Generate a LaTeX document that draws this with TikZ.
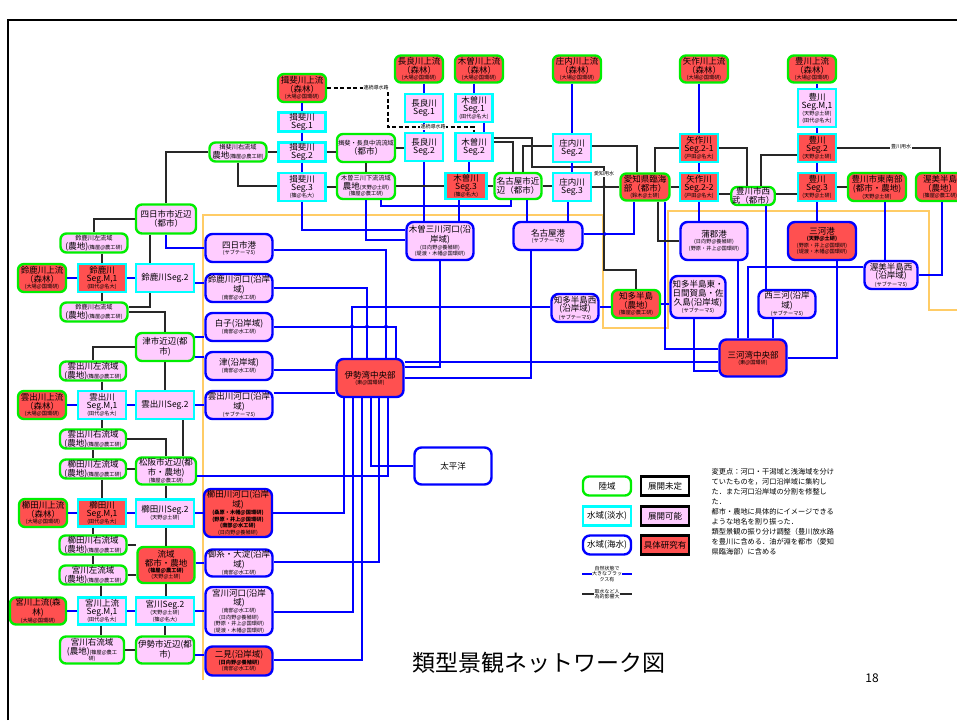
\documentclass[tikz,border=0pt]{standalone}
\usepackage{fontspec}
\setmainfont{Noto Sans CJK JP}
\definecolor{lgreen}{RGB}{0,238,0}
\definecolor{lcyan}{RGB}{0,255,255}
\definecolor{lblue}{RGB}{0,0,255}
\definecolor{pinkf}{RGB}{255,204,255}
\definecolor{redf}{RGB}{255,80,80}
\definecolor{orng}{RGB}{255,204,102}
\definecolor{lineg}{RGB}{40,40,40}
\newcommand{\sm}[1]{{\fontsize{5.2}{3}\selectfont #1}}
\newcommand{\xs}[1]{{\fontsize{6.2}{3}\selectfont #1}}
\begin{document}
\begin{tikzpicture}[x=1pt,y=-1pt,
 every node/.style={font=\fontsize{8.5}{4}\selectfont, inner sep=0.5pt, align=center},
 land/.style={draw=lgreen,line width=2.4pt,rounded corners=6pt},
 fresh/.style={draw=lcyan,line width=2.4pt},
 sea/.style={draw=lblue,line width=2.4pt,rounded corners=7pt},
 pk/.style={fill=pinkf}, rd/.style={fill=redf},
 sz/.style 2 args={minimum width=#1,minimum height=#2},
 bl/.style={draw=lblue,line width=2.7pt},
 tb/.style={draw=lblue,line width=1.2pt},
 bk/.style={draw=lineg,line width=1.1pt},
 dsh/.style={draw=black,line width=1.3pt,dash pattern=on 4pt off 2.5pt},
 lbl/.style={fill=white,inner sep=0.6pt,font=\fontsize{5}{3}\selectfont},
 org/.style={draw=orng,line width=2pt}]
\useasboundingbox (0,0) rectangle (957,720);
% frame
\draw[line width=2.5pt] (8,720) -- (8,20) -- (957,20);
% orange bracket
\draw[org] (203,680) -- (203,215) -- (603,215) -- (603,328) -- (668,328) -- (668,211) -- (929,211) -- (929,310) -- (960,310);

% ---------- left column ----------
\node[land,rd,sz={48}{28}] (iu) at (302,88) {揖斐川上流\\（森林）\\\sm{(大場@国環研)}};
\node[fresh,pk,sz={47}{19}] (i1) at (302,122) {揖斐川\\Seg.1};
\node[fresh,pk,sz={47}{19}] (i2) at (302,152) {揖斐川\\Seg.2};
\node[fresh,pk,sz={47}{28}] (i3) at (302,187) {揖斐川\\Seg.3\\\sm{(篠@名大)}};
\node[land,pk,sz={57}{19}] (ir) at (238,152) {\xs{揖斐川右流域}\\農地\sm{(篠屋@農工研)}};
\node[land,pk,sz={60}{29}] (yc) at (166,219) {四日市市近辺\\（都市）};
\node[sea,pk,sz={67}{28}] (yp) at (239,248) {四日市港\\\sm{(サブテーマ5)}};
\node[land,pk,sz={67}{19}] (sl) at (94,243) {\xs{鈴鹿川左流域}\\(農地)\sm{(篠屋@農工研)}};
\node[land,rd,sz={48}{28}] (su) at (42,278) {鈴鹿川上流\\（森林）\\\sm{(大場@国環研)}};
\node[fresh,rd,sz={48}{28}] (sm) at (102,278) {鈴鹿川\\Seg.M,1\\\sm{(田代@名大)}};
\node[fresh,pk,sz={58}{28}] (s2) at (165,278) {鈴鹿川Seg.2};
\node[sea,pk,sz={67}{28}] (sk) at (239,288) {鈴鹿川河口(沿岸\\域)\\\sm{(南部@水工研)}};
\node[land,pk,sz={67}{19}] (sr) at (94,312) {\xs{鈴鹿川右流域}\\(農地)\sm{(篠屋@農工研)}};
\node[sea,pk,sz={67}{28}] (sh) at (239,327) {白子(沿岸域)\\\sm{(南部@水工研)}};
\node[land,pk,sz={58}{28}] (tc) at (165,347) {津市近辺(都\\市)};
\node[sea,pk,sz={67}{28}] (ts) at (239,366) {津(沿岸域)\\\sm{(南部@水工研)}};
\node[land,pk,sz={66}{19}] (kl) at (93,371) {雲出川左流域\\(農地)\sm{(篠屋@農工研)}};
\node[land,rd,sz={48}{28}] (ku) at (42,405) {雲出川上流\\（森林）\\\sm{(大場@国環研)}};
\node[fresh,pk,sz={48}{28}] (km) at (102,405) {雲出川\\Seg.M,1\\\sm{(田代@名大)}};
\node[fresh,pk,sz={58}{28}] (k2) at (165,405) {雲出川Seg.2};
\node[sea,pk,sz={67}{28}] (kk) at (239,405) {雲出川河口(沿岸\\域)\\\sm{(サブテーマ5)}};
\node[land,pk,sz={66}{19}] (kr) at (93,439) {雲出川右流域\\(農地)\sm{(篠屋@農工研)}};
\node[land,pk,sz={66}{19}] (cl) at (93,469) {櫛田川左流域\\(農地)\sm{(篠屋@農工研)}};
\node[land,pk,sz={60}{27}] (mc) at (166,471) {松阪市近辺(都\\市・農地)\\\sm{(篠屋@農工研)}};
\node[land,rd,sz={48}{28}] (cu) at (43,513) {櫛田川上流\\（森林）\\\sm{(大場@国環研)}};
\node[fresh,rd,sz={48}{27}] (cm) at (102,513) {櫛田川\\Seg.M,1\\\sm{(田代@名大)}};
\node[fresh,pk,sz={58}{27}] (c2) at (165,513) {櫛田川Seg.2\\\sm{(天野@土研)}};
\node[sea,rd,sz={68}{48}] (ck) at (238,513) {櫛田川河口(沿岸\\域)\\\sm{\bfseries(桑原・木幡@国環研)}\\\sm{\bfseries(野原・井上@国環研)}\\\sm{\bfseries(南部@水工研)}\\\sm{(日向野@養殖研)}};
\node[land,pk,sz={67}{19}] (cr) at (93,545) {櫛田川右流域\\(農地)\sm{(篠屋@農工研)}};
\node[land,rd,sz={57}{36}] (ry) at (166,565) {流域\\都市・農地\\\sm{\bfseries(篠屋@農工研)}\\\sm{(天野@土研)}};
\node[sea,pk,sz={67}{27}] (go) at (239,563) {御糸・大淀(沿岸\\域)\\\sm{(南部@水工研)}};
\node[land,pk,sz={67}{19}] (wl) at (93,575) {宮川左流域\\(農地)\sm{(篠屋@農工研)}};
\node[land,rd,sz={56}{27}] (wu) at (38,611) {宮川上流(森\\林)\\\sm{(大場@国環研)}};
\node[fresh,pk,sz={48}{27}] (wm) at (102,611) {宮川上流\\Seg.M,1\\\sm{(田代@名大)}};
\node[fresh,pk,sz={58}{27}] (w2) at (165,611) {宮川Seg.2\\\sm{(天野@土研)}\\\sm{(篠@名大)}};
\node[sea,pk,sz={67}{48}] (wk) at (239,611) {宮川河口(沿岸\\域)\\\sm{(南部@水工研)}\\\sm{(日向野@養殖研)}\\\sm{(野原・井上@国環研)}\\\sm{(堤渡・木幡@国環研)}};
\node[land,pk,sz={64}{27}] (wr) at (92,650) {宮川右流域\\(農地)\sm{(篠屋@農工}\\\sm{研)}};
\node[land,pk,sz={58}{27}] (ic) at (165,650) {伊勢市近辺(都\\市)};
\node[sea,rd,sz={67}{29}] (fu) at (239,661) {二見(沿岸域)\\\sm{\bfseries(日向野@養殖研)}\\\sm{(南部@水工研)}};

% ---------- middle ----------
\node[land,rd,sz={48}{27}] (nu) at (419,69) {長良川上流\\（森林）\\\sm{(大場@国環研)}};
\node[land,rd,sz={48}{27}] (gu) at (479,69) {木曽川上流\\（森林）\\\sm{(大場@国環研)}};
\node[land,rd,sz={48}{27}] (ou) at (577,69) {庄内川上流\\（森林）\\\sm{(大場@国環研)}};
\node[fresh,pk,sz={38}{28}] (n1) at (424,108) {長良川\\Seg.1};
\node[fresh,pk,sz={37}{28}] (g1) at (474,108) {木曽川\\Seg.1\\\sm{(田代@名大)}};
\node[fresh,pk,sz={38}{28}] (n2) at (424,147) {長良川\\Seg.2};
\node[fresh,pk,sz={37}{28}] (g2) at (474,147) {木曽川\\Seg.2};
\node[land,pk,sz={58}{28}] (im) at (366,148) {\xs{揖斐・長良中流流域}\\（都市）};
\node[land,pk,sz={58}{26}] (kd) at (366,186) {\xs{木曽三川下流流域}\\農地\sm{(天野@土研)}\\\sm{(篠屋@農工研)}};
\node[fresh,rd,sz={41}{26}] (g3) at (466,186) {木曽川\\Seg.3\\\sm{(篠@名大)}};
\node[land,pk,sz={47}{26}] (nc) at (518,186) {名古屋市近\\辺（都市）};
\node[fresh,pk,sz={38}{28}] (o2) at (572,148) {庄内川\\Seg.2};
\node[fresh,pk,sz={38}{28}] (o3) at (572,187) {庄内川\\Seg.3};
\node[sea,pk,sz={67}{38}] (km3) at (440,241) {木曽三川河口(沿\\岸域)\\\sm{(日向野@養殖研)}\\\sm{(堤渡・木幡@国環研)}};
\node[sea,pk,sz={69}{28}] (np) at (548,236) {名古屋港\\\sm{(サブテーマ5)}};
\node[sea,pk,sz={47}{28}] (cw) at (575,308) {知多半島西\\(沿岸域)\\\sm{(サブテーマ5)}};
\node[land,rd,sz={48}{28}] (ca) at (636,304) {知多半島\\（農地）\\\sm{(篠屋@農工研)}};
\node[sea,rd,sz={67}{38}] (ib) at (370,378) {伊勢湾中央部\\\sm{(東@国環研)}};
\node[sea,fill=white,sz={77}{37}] (tp) at (453,466) {太平洋};

% ---------- right ----------
\node[land,rd,sz={48}{27}] (yu) at (704,69) {矢作川上流\\（森林）\\\sm{(大場@国環研)}};
\node[land,rd,sz={48}{27}] (tu) at (812,69) {豊川上流\\（森林）\\\sm{(大場@国環研)}};
\node[fresh,pk,sz={38}{38}] (tm) at (817,108) {豊川\\Seg.M,1\\\sm{(天野@土研)}\\\sm{(田代@名大)}};
\node[fresh,rd,sz={38}{28}] (t2) at (817,148) {豊川\\Seg.2\\\sm{(天野@土研)}};
\node[fresh,rd,sz={38}{28}] (t3) at (817,187) {豊川\\Seg.3\\\sm{(天野@土研)}};
\node[fresh,rd,sz={38}{28}] (y21) at (699,148) {矢作川\\Seg.2-1\\\sm{(戸田@名大)}};
\node[fresh,rd,sz={38}{28}] (y22) at (699,187) {矢作川\\Seg.2-2\\\sm{(戸田@名大)}};
\node[land,rd,sz={49}{27}] (ak) at (645,187) {愛知県臨海\\部（都市）\\\sm{(鈴木@土研)}};
\node[land,pk,sz={38}{18}] (tw) at (753,196) {豊川市西\\武（都市）};
\node[land,rd,sz={58}{28}] (te) at (877,187) {豊川市東南部\\(都市・農地)\\\sm{(天野@土研)}};
\node[land,rd,sz={48}{28}] (ab) at (940,187) {渥美半島\\（農地）\\\sm{(篠屋@農工研)}};
\node[sea,pk,sz={67}{38}] (gm) at (714,241) {蒲郡港\\\sm{(日向野@養殖研)}\\\sm{(野原・井上@国環研)}};
\node[sea,rd,sz={68}{38}] (mk) at (822,241) {三河港\\\sm{\bfseries(天野@土研)}\\\sm{(野原・井上@国環研)}\\\sm{(堤渡・木幡@国環研)}};
\node[sea,pk,sz={53}{28}] (aw) at (891,275) {渥美半島西\\(沿岸域)\\\sm{(サブテーマ5)}};
\node[sea,pk,sz={55}{42}] (ce) at (698,297) {知多半島東・\\日間賀島・佐\\久島(沿岸域)\\\sm{(サブテーマ5)}};
\node[sea,pk,sz={57}{28}] (nm) at (787,304) {西三河(沿岸\\域)\\\sm{(サブテーマ5)}};
\node[sea,rd,sz={67}{37}] (mb) at (753,358) {三河湾中央部\\\sm{(東@国環研)}};

% ---------- blue connectors ----------
\draw[bl] (iu) -- (i1); \draw[bl] (i1) -- (i2); \draw[bl] (i2) -- (i3);
\draw[bl] (i3.south) |- (km3.west |- 0,230);
\draw[bl] (kd.south) |- (km3.west |- 0,240);
\draw[bl] (nu.south -| n1) -- (n1); \draw[bl] (n1) -- (n2); \draw[bl] (n2.south) -- (n2.south |- km3.north);
\draw[bl] (gu.south -| g1) -- (g1.north);
\draw[bl] (484,0 |- g1.south) -- (484,0 |- g2.north);
\draw[bl] (469,0 |- g2.south) -- (469,0 |- g3.north);
\draw[bl] (459,0 |- g3.south) -- (459,0 |- km3.north);
\draw[bl] (ou.south -| o2) -- (o2); \draw[bl] (o2) -- (o3);
\draw[bl] (568,0 |- o3.south) -- (568,0 |- np.north);
\draw[bl] (527,0 |- nc.south) -- (527,0 |- np.north);
\draw[bl] (np.east |- 0,234) -| (634,0 |- ak.south);
\draw[bl] (531,0 |- np.south) |- (ib.east |- 0,378);
\draw[bl] (440,0 |- km3.south) |- (ib.east |- 0,367);
\draw[bl] (ib.east |- 0,362) -- (mb.west |- 0,362);
\draw[bl] (352,0 |- ib.north) |- (cw.west |- 0,307);
\draw[bl] (yp.east |- 0,250) -| (386,0 |- ib.north);
\draw[bl] (sk.east |- 0,288) -| (367,0 |- ib.north);
\draw[bl] (sh.east |- 0,327) -| (396,0 |- ib.north);
\draw[bl] (ts.east |- 0,370) -- (ib.west |- 0,370);
\draw[bl] (kk.east |- 0,393) -- (ib.west |- 0,393);
\draw[bl] (344,0 |- ib.south) |- (ck.east |- 0,513);
\draw[bl] (353,0 |- ib.south) |- (wk.east |- 0,612);
\draw[bl] (362,0 |- ib.south) |- (fu.east |- 0,660);
\draw[bl] (371,0 |- ib.south) |- (tp.west |- 0,466);
\draw[bl] (379,0 |- ib.south) |- (go.east |- 0,562);
\draw[bl] (mc.east |- 0,476) -| (388,0 |- ib.south);
\draw[bl] (su) -- (sm); \draw[bl] (sm) -- (s2);
\draw[bl] (s2.east |- 0,283) -- (sk.west |- 0,283);
\draw[bl] (tc.east |- 0,337) -- (sh.west |- 0,337);
\draw[bl] (tc.east |- 0,357) -- (ts.west |- 0,357);
\draw[bl] (ku) -- (km); \draw[bl] (km) -- (k2); \draw[bl] (k2) -- (kk);
\draw[bl] (cu) -- (cm); \draw[bl] (cm) -- (c2); \draw[bl] (c2) -- (ck);
\draw[bl] (ry.east |- 0,563) -- (go.west |- 0,563);
\draw[bl] (wu) -- (wm); \draw[bl] (wm) -- (w2); \draw[bl] (w2) -- (wk);
\draw[bl] (ic.east |- 0,655) -- (fu.west |- 0,655);
\draw[bl] (166,0 |- yc.south) |- (yp.west |- 0,248);
\draw[bl] (yu.south -| y21) -- (y21); \draw[bl] (y21) -- (y22); \draw[bl] (y22.south) -- (y22.south |- gm.north);
\draw[bl] (tu.south -| tm) -- (tm); \draw[bl] (tm) -- (t2); \draw[bl] (t2) -- (t3); \draw[bl] (t3.south) -- (t3.south |- mk.north);
\draw[bl] (885,0 |- te.south) -- (885,0 |- aw.north);
\draw[bl] (942,0 |- ab.south) |- (aw.east |- 0,275);
\draw[bl] (aw.west |- 0,267) -| (748,0 |- mb.north);
\draw[bl] (766,0 |- tw.south) -- (766,0 |- nm.north);
\draw[bl] (837,0 |- mk.south) |- (mb.east |- 0,358);
\draw[bl] (738,0 |- gm.south) -- (738,0 |- mb.north);
\draw[bl] (773,0 |- nm.south) -- (773,0 |- mb.north);
\draw[bl] (694,0 |- ce.south) |- (mb.west |- 0,371);
\draw[bl] (665,0 |- ak.south) |- (mb.west |- 0,349);
\draw[bl] (ca.east |- 0,304) -- (ce.west |- 0,304);
\draw[bl] (cw.east |- 0,307) -- (ca.west |- 0,307);
\draw[tb] (381,0 |- kd.south) -- (381,206) -| (511,0 |- nc.south);

% ---------- black connectors ----------
\draw[bk] (ir) -- (i2);
\draw[bk] (ir.south) |- (i3.west |- 0,186);
\draw[bk] (ir.west) -| (yc.north);
\draw[bk] (yc.west) -| (sl.north);
\draw[bk] (150,0 |- yc.south) -- (150,0 |- s2.north);
\draw[bk] (102,0 |- sl.south) -- (sm.north);
\draw[bk] (sm.south) -- (102,0 |- sr.north);
\draw[bk] (150,0 |- s2.south) |- (sr.east |- 0,307);
\draw[bk] (sr.east |- 0,312) -| (tc.north);
\draw[bk] (tc.west) -| (kl.north);
\draw[bk] (102,0 |- kl.south) -- (km.north);
\draw[bk] (km.south) -- (102,0 |- kr.north);
\draw[bk] (tc.south) -- (k2.north);
\draw[bk] (kr.east) -| (mc.north);
\draw[bk] (183,0 |- k2.south) -- (183,0 |- mc.north);
\draw[bk] (93,0 |- kr.south) -- (93,0 |- cl.north);
\draw[bk] (cl.east) -- (mc.west |- cl.east);
\draw[bk] (102,0 |- cl.south) -- (cm.north);
\draw[bk] (mc.south) -- (c2.north -| mc.south);
\draw[bk] (93,0 |- cm.south) -- (93,0 |- cr.north);
\draw[bk] (cr.east) -- (ry.west |- cr.east);
\draw[bk] (c2.south -| ry.north) -- (ry.north);
\draw[bk] (93,0 |- cr.south) -- (93,0 |- wl.north);
\draw[bk] (wl.east) -- (ry.west |- wl.east);
\draw[bk] (ry.south) -- (w2.north -| ry.south);
\draw[bk] (101,0 |- wl.south) -- (wm.north -| 101,0);
\draw[bk] (wm.south -| 101,0) -- (101,0 |- wr.north);
\draw[bk] (w2.south) -- (ic.north -| w2.south);
\draw[bk] (wr.east) -- (ic.west |- wr.east);
\draw[bk] (i2.east |- 0,152) -- (im.west |- 0,152);
\draw[bk] (i3.east |- 0,187) -- (kd.west |- 0,187);
\draw[bk] (im.east |- 0,148) -- (n2.west |- 0,148);
\draw[bk] (im.south) -- (kd.north);
\draw[bk] (kd.east) -- (g3.west |- kd.east);
\draw[bk] (g3.east) -- (nc.west |- g3.east);
\draw[bk] (g2.east |- 0,142) -| (513,0 |- nc.north);
\draw[bk] (523,0 |- nc.north) |- (o2.west |- 0,146);
\draw[bk] (g2.east |- 0,138) -| (532,167) -| (604,270) -| (ca.north);
\draw[bk] (nc.east) -- (o3.west |- nc.east);
\draw[bk] (o2.east |- 0,146) -| (637,0 |- ak.north);
\draw[bk] (o3.east) -- (ak.west |- o3.east);
\draw[bk] (ak.east) -- (y22.west |- ak.east);
\draw[bk] (y21.west) -| (655,0 |- ak.north);
\draw[bk] (y21.east) -| (747,0 |- tw.north);
\draw[bk] (y22.east |- 0,194) -- (tw.west |- 0,194);
\draw[bk] (761,0 |- tw.north) |- (t2.west |- 0,155);
\draw[bk] (tw.east |- 0,194) -- (t3.west |- 0,194);
\draw[bk] (t3.east) -- (te.west |- t3.east);
\draw[bk] (t2.east) -| (940,0 |- ab.north);
\draw[bk] (658,0 |- ak.south) |- (gm.west);
\node[lbl] (lyo) at (901,147) {豊川用水};
\node[lbl] (lai) at (604,174) {愛知用水};
% dashed
\draw[dsh] (iu.east) -- (388,88) |- (474,127) -- (474,0 |- g2.north);
\node[lbl] (ld1) at (376,88) {連続導水路};
\node[lbl] (ld2) at (433,127) {連続導水路};

% junction dots
\foreach \p in {(366,230),(424,206),(459,206),(605,234),(572,167),(352,326),(367,307),(386,307),(440,307),(531,307),(367,326),(386,326),(440,362),(531,362),(353,476),(344,476),(362,476),(379,476),(379,466),(388,466),(353,562),(362,562),(694,349),(694,362),(665,304),(766,267),(837,267)}
  \fill[lblue] \p circle (1.9pt);
\foreach \p in {(424,186),(604,186),(665,241),(532,146)}
  \fill[lineg] \p circle (1.5pt);

% ---------- legend ----------
\node[land,sz={48}{19}] (lg1) at (607,486) {陸域};
\node[fresh,sz={48}{19}] (lg2) at (607,516) {水域(淡水)};
\node[sea,sz={48}{19}] (lg3) at (607,545) {水域(海水)};
\node[draw=black,line width=2.2pt,sz={48}{19}] (lg4) at (665,486) {展開未定};
\node[draw=black,line width=2.2pt,pk,sz={48}{19}] (lg5) at (665,516) {展開可能};
\node[draw=black,line width=2.2pt,rd,sz={48}{19}] (lg6) at (665,545) {具体研究有};
\coordinate (lb1) at (582,574); \coordinate (lb2) at (632,574);
\draw[bl] (lb1) -- (lb2);
\node[fill=white,inner sep=0.3pt,font=\fontsize{5}{3}\selectfont] (lbt) at (607,574) {自然状態で\\大きなフラッ\\クス有};
\coordinate (lk1) at (582,594); \coordinate (lk2) at (632,594);
\draw[bk] (lk1) -- (lk2);
\node[fill=white,inner sep=0.3pt,font=\fontsize{5}{3}\selectfont] (lkt) at (607,594) {取水など人\\為的影響大};
\node[anchor=north west,align=left,font=\fontsize{7.2}{10}\selectfont] (note) at (711,468) {変更点：河口・干潟域と浅海域を分け\\ていたものを，河口沿岸域に集約し\\た．また河口沿岸域の分割を修整し\\た．\\都市・農地に具体的にイメージできる\\ような地名を割り振った．\\類型景観の振り分け調整（豊川放水路\\を豊川に含める．油が淵を都市（愛知\\県臨海部）に含める};
\node[font=\fontsize{23}{27}\selectfont] (title) at (539,663) {類型景観ネットワーク図};
\node[font=\fontsize{12}{14}\selectfont] (pg) at (872,678) {18};
\end{tikzpicture}
\end{document}
